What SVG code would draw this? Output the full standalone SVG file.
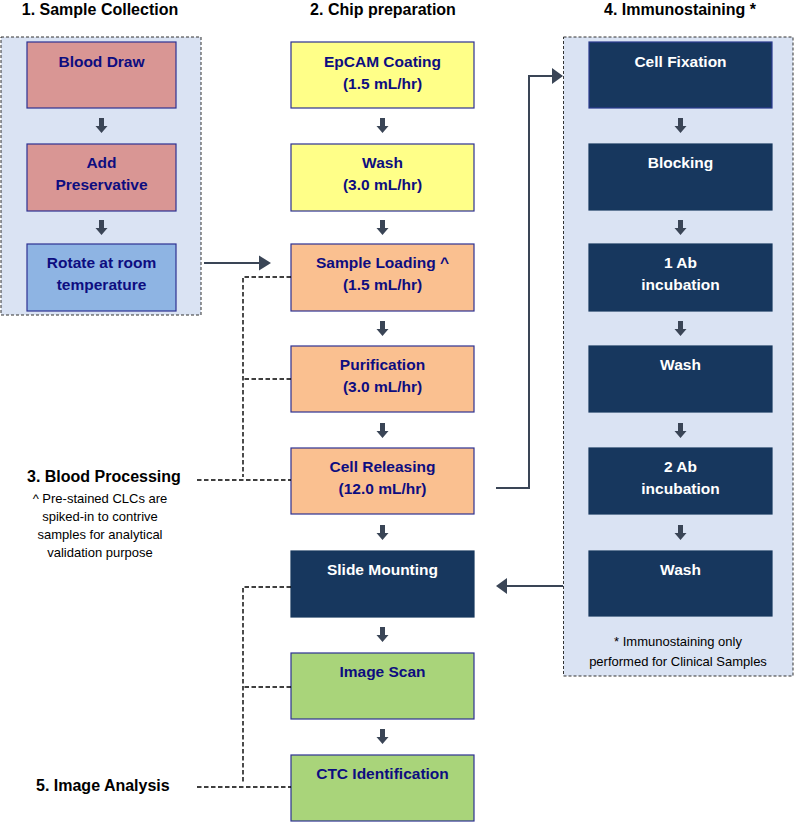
<svg xmlns="http://www.w3.org/2000/svg" width="795" height="823" viewBox="0 0 795 823">
<style>
.title{font-family:"Liberation Sans",Arial,sans-serif;font-weight:bold;font-size:16px;fill:#000;text-anchor:middle}
.lbl{font-family:"Liberation Sans",Arial,sans-serif;font-weight:bold;font-size:16px;fill:#000}
.note{font-family:"Liberation Sans",Arial,sans-serif;font-size:13px;fill:#000;text-anchor:middle}
.bt{font-family:"Liberation Sans",Arial,sans-serif;font-weight:bold;font-size:15.5px;fill:#0d0d80;text-anchor:middle}
.wt{font-family:"Liberation Sans",Arial,sans-serif;font-weight:bold;font-size:15.5px;fill:#fff;text-anchor:middle}
.panel{fill:#dae3f3;stroke:#333;stroke-width:1;stroke-dasharray:3 2}
.pink{fill:#d99694;stroke:#2e3192;stroke-width:1.2}
.blue{fill:#8eb4e3;stroke:#2e3192;stroke-width:1.2}
.yel{fill:#ffff88;stroke:#2e3192;stroke-width:1.2}
.org{fill:#fac090;stroke:#2e3192;stroke-width:1.2}
.grn{fill:#a9d47a;stroke:#2e3192;stroke-width:1.2}
.navy{fill:#17375e;stroke:#17375e;stroke-width:1.2}
.dash{fill:none;stroke:#000;stroke-width:1.4;stroke-dasharray:4.5 2.5}
.conn{fill:none;stroke:#3a4556;stroke-width:2}
.ah{fill:#3a4556}
</style>
<defs>
<path id="down" d="M-2.5,0 H2.5 V8 H6 L0,15 L-6,8 H-2.5 Z" class="ah"/>
</defs>

<text class="title" x="100" y="15">1. Sample Collection</text>
<text class="title" x="383" y="15">2. Chip preparation</text>
<text class="title" x="680" y="15">4. Immunostaining *</text>

<g id="panel1"><rect class="panel" x="1" y="37" width="200" height="278"/></g>
<g id="panel4"><rect class="panel" x="563.5" y="37" width="229.5" height="639"/></g>

<g id="blood-draw"><rect class="pink" x="27" y="42" width="149" height="66"/><text class="bt" x="101.5" y="67">Blood Draw</text></g>
<g id="add-preservative"><rect class="pink" x="27" y="144" width="149" height="67"/><text class="bt" x="101.5" y="168">Add</text><text class="bt" x="101.5" y="190">Preservative</text></g>
<g id="rotate"><rect class="blue" x="27" y="244" width="149" height="67"/><text class="bt" x="101.5" y="268">Rotate at room</text><text class="bt" x="101.5" y="290">temperature</text></g>

<g id="epcam"><rect class="yel" x="291" y="42" width="183" height="66"/><text class="bt" x="382.5" y="67">EpCAM Coating</text><text class="bt" x="382.5" y="89">(1.5 mL/hr)</text></g>
<g id="wash-chip"><rect class="yel" x="291" y="144" width="183" height="67"/><text class="bt" x="382.5" y="168">Wash</text><text class="bt" x="382.5" y="190">(3.0 mL/hr)</text></g>
<g id="sample-loading"><rect class="org" x="291" y="244" width="183" height="67"/><text class="bt" x="382.5" y="268">Sample Loading ^</text><text class="bt" x="382.5" y="290">(1.5 mL/hr)</text></g>
<g id="purification"><rect class="org" x="291" y="346" width="183" height="66"/><text class="bt" x="382.5" y="370">Purification</text><text class="bt" x="382.5" y="392">(3.0 mL/hr)</text></g>
<g id="cell-releasing"><rect class="org" x="291" y="448" width="183" height="66"/><text class="bt" x="382.5" y="472">Cell Releasing</text><text class="bt" x="382.5" y="494">(12.0 mL/hr)</text></g>
<g id="slide-mounting"><rect class="navy" x="291" y="551" width="183" height="66"/><text class="wt" x="382.5" y="575">Slide Mounting</text></g>
<g id="image-scan"><rect class="grn" x="291" y="653" width="183" height="66"/><text class="bt" x="382.5" y="677">Image Scan</text></g>
<g id="ctc-id"><rect class="grn" x="291" y="755" width="183" height="66"/><text class="bt" x="382.5" y="779">CTC Identification</text></g>

<g id="cell-fixation"><rect class="navy" x="589" y="42" width="183" height="66" style="stroke:#2a3b8f"/><text class="wt" x="680.5" y="67">Cell Fixation</text></g>
<g id="blocking"><rect class="navy" x="589" y="144" width="183" height="66"/><text class="wt" x="680.5" y="168">Blocking</text></g>
<g id="ab1"><rect class="navy" x="589" y="244" width="183" height="67"/><text class="wt" x="680.5" y="268">1 Ab</text><text class="wt" x="680.5" y="290">incubation</text></g>
<g id="wash1"><rect class="navy" x="589" y="346" width="183" height="66"/><text class="wt" x="680.5" y="370">Wash</text></g>
<g id="ab2"><rect class="navy" x="589" y="448" width="183" height="66"/><text class="wt" x="680.5" y="472">2 Ab</text><text class="wt" x="680.5" y="494">incubation</text></g>
<g id="wash2"><rect class="navy" x="589" y="551" width="183" height="65"/><text class="wt" x="680.5" y="575">Wash</text></g>

<g id="note-immuno"><text class="note" x="678" y="646">* Immunostaining only</text><text class="note" x="678" y="666">performed for Clinical Samples</text></g>

<g id="label-blood-processing"><text class="lbl" x="27" y="482">3. Blood Processing</text>
<text class="note" x="100" y="503">^ Pre-stained CLCs are</text>
<text class="note" x="100" y="521">spiked-in to contrive</text>
<text class="note" x="100" y="539">samples for analytical</text>
<text class="note" x="100" y="557">validation purpose</text></g>
<g id="label-image-analysis"><text class="lbl" x="36" y="791">5. Image Analysis</text></g>

<g id="connectors">
<use href="#down" x="101.5" y="118"/>
<use href="#down" x="101.5" y="220"/>
<use href="#down" x="382.5" y="118"/>
<use href="#down" x="382.5" y="220"/>
<use href="#down" x="382.5" y="321"/>
<use href="#down" x="382.5" y="423"/>
<use href="#down" x="382.5" y="525"/>
<use href="#down" x="382.5" y="627"/>
<use href="#down" x="382.5" y="729"/>
<use href="#down" x="680.5" y="118"/>
<use href="#down" x="680.5" y="220"/>
<use href="#down" x="680.5" y="321"/>
<use href="#down" x="680.5" y="423"/>
<use href="#down" x="680.5" y="525"/>

<path class="conn" d="M204,263 H260"/>
<path class="ah" d="M259,255.5 L271,263 L259,270.5 Z"/>
<path class="conn" d="M496,488 H529 V76 H553"/>
<path class="ah" d="M552,68 L563,76 L552,84 Z"/>
<path class="conn" d="M563,586 H506"/>
<path class="ah" d="M507,578 L496,586 L507,594 Z"/>

<path class="dash" d="M291,277 H243 V477"/>
<path class="dash" d="M291,379 H243"/>
<path class="dash" d="M197,480 H291"/>
<path class="dash" d="M291,587 H243 V784"/>
<path class="dash" d="M291,687 H243"/>
<path class="dash" d="M197,787 H291"/>
</g>
</svg>
